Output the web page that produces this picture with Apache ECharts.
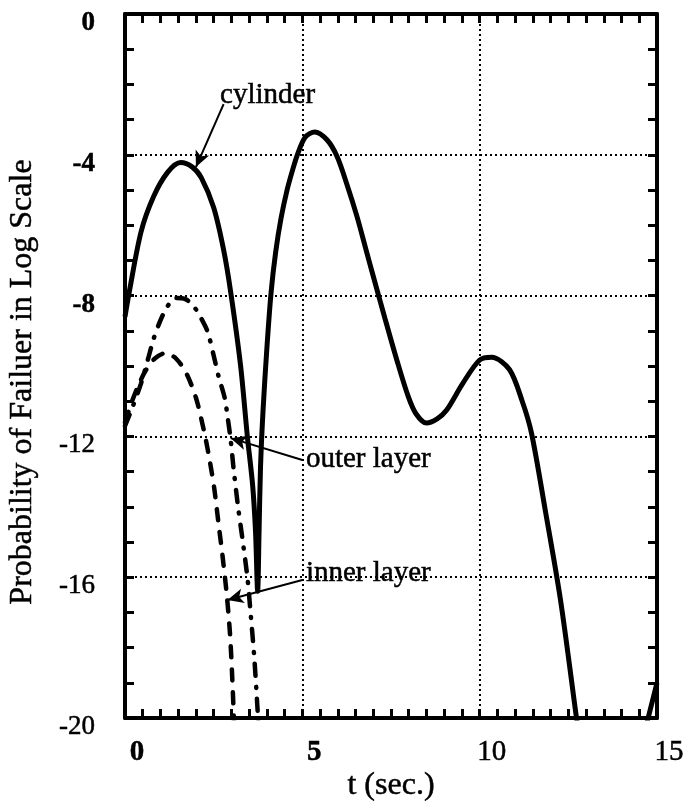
<!DOCTYPE html>
<html>
<head>
<meta charset="utf-8">
<script src="https://cdn.jsdelivr.net/npm/echarts@6/dist/echarts.min.js"></script>
<style>
  html, body { margin: 0; padding: 0; background: #fff; }
  #chart { width: 690px; height: 811px; }
</style>
</head>
<body>
<div id="chart"></div>
<script>
// cylinder (solid)
var cylT = [0, 0.12, 0.45, 0.8, 1.2, 1.57, 1.9, 2.15, 2.5, 2.78, 2.98, 3.26, 3.45, 3.6, 3.68, 3.74, 3.78, 3.82, 3.89, 4.0, 4.12, 4.25, 4.4, 4.57, 4.72, 4.86, 5.08, 5.35, 5.7, 5.98, 6.26, 6.54, 6.77, 7.0, 7.33, 7.67, 7.98, 8.2, 8.5, 8.8, 9.07, 9.52, 10.0, 10.34, 10.84, 11.2, 11.46, 11.85, 12.28, 12.73, 12.8, 13.5, 14.7, 15];
var cylY = [-8.6, -7.9, -6.2, -5.2, -4.5, -4.22, -4.35, -4.65, -5.5, -6.7, -7.9, -10.0, -12.0, -13.4, -14.7, -16.4, -14.7, -12.9, -11.3, -9.5, -7.9, -6.75, -5.8, -5.0, -4.45, -4.0, -3.5, -3.35, -3.58, -4.05, -4.85, -5.75, -6.6, -7.45, -8.65, -9.85, -10.85, -11.35, -11.62, -11.5, -11.25, -10.5, -9.83, -9.75, -10.1, -11.0, -11.9, -14.1, -16.65, -20.0, -20.5, null, -20.2, -19.0];
// outer layer (dash-dot)
var outerT = [0, 0.2, 0.45, 0.65, 0.8, 0.98, 1.2, 1.43, 1.7, 1.97, 2.15, 2.33, 2.5, 2.64, 2.81, 2.9, 2.98, 3.06, 3.2, 3.31, 3.45, 3.54, 3.65, 3.74, 3.77];
var outerY = [-11.7, -11.2, -10.5, -9.8, -9.25, -8.75, -8.3, -8.07, -8.1, -8.35, -8.65, -9.03, -9.7, -10.3, -10.9, -11.5, -12.1, -12.9, -14.1, -14.9, -16.0, -17.0, -18.35, -19.8, -20.3];
// inner layer (dashed)
var innerT = [0, 0.2, 0.4, 0.6, 0.85, 1.15, 1.45, 1.74, 2.0, 2.15, 2.28, 2.4, 2.52, 2.64, 2.75, 2.86, 2.96, 3.03, 3.08];
var innerY = [-11.6, -11.0, -10.5, -10.1, -9.78, -9.63, -9.8, -10.23, -10.9, -11.5, -12.1, -12.75, -13.5, -14.5, -15.4, -16.4, -17.6, -19.0, -20.3];

var xTicks = [0, 5, 10, 15];

// annotations (data coords)
var noteText = ['cylinder', 'outer layer', 'inner layer'];
var noteAt = [[2.68, -2.3], [5.1, -12.65], [5.1, -15.9]];
var arrowFrom = [[2.78, -2.56], [5.0, -12.67], [5.0, -16.08]];
var arrowTo = [[2.0, -4.35], [2.98, -12.05], [2.89, -16.65]];

function zip(t, y) {
  return t.map(function (v, i) { return [v, y[i] == null ? '-' : y[i]]; });
}

var serif = 'Liberation Serif';
var black = '#000';
var heavy = { textBorderColor: black, textBorderWidth: 0.5 };

function txt(size, bold) {
  return Object.assign({ fontFamily: serif, fontSize: size, fontWeight: bold ? 'bold' : 'normal', color: black }, heavy);
}

function frameAxis(extra) {
  var base = {
    type: 'value',
    axisLine: { show: true, onZero: false, lineStyle: { color: black, width: 4 } },
    axisTick: { show: true, inside: true, length: 9, lineStyle: { color: black, width: 3 } },
    minorTick: { show: true, length: 9, lineStyle: { color: black, width: 3 } },
    splitLine: { show: false },
    axisLabel: { show: false },
    nameMoveOverlap: false
  };
  for (var k in extra) {
    if (k === 'minorTick') base.minorTick.splitNumber = extra[k].splitNumber;
    else base[k] = extra[k];
  }
  return base;
}

var chart = echarts.init(document.getElementById('chart'));
chart.setOption({
  animation: false,
  backgroundColor: '#fff',
  grid: { left: 125, right: 33, top: 14, bottom: 93, containLabel: false, outerBoundsMode: 'none' },
  xAxis: [
    frameAxis({
      min: 0, max: 15, interval: 5, position: 'bottom',
      minorTick: { splitNumber: 10 },
      splitLine: { show: true, lineStyle: { color: black, width: 2, type: [2, 3] } },
      axisLabel: {
        show: true, margin: 20, padding: [0, 0, 0, 24], color: black,
        customValues: xTicks,
        formatter: function (v) { return v < 10 ? '{b|' + v + '}' : '{r|' + v + '}'; },
        rich: { b: txt(29, true), r: txt(29, false) }
      },
      name: 't (sec.)', nameLocation: 'middle', nameGap: 52,
      nameTextStyle: txt(32, false)
    }),
    frameAxis({ min: 0, max: 15, interval: 5, position: 'top', minorTick: { splitNumber: 10 } })
  ],
  yAxis: [
    frameAxis({
      min: -20, max: 0, interval: 4, position: 'left',
      minorTick: { splitNumber: 4 },
      splitLine: { show: true, lineStyle: { color: black, width: 2, type: [2, 3] } },
      axisLabel: {
        show: true, margin: 30, padding: [18, 0, 0, 0], color: black,
        formatter: function (v) { return v > -10 ? '{b|' + v + '}' : '{r|' + v + '}'; },
        rich: { b: txt(27, true), r: txt(27, false) }
      },
      name: 'Probability of Failuer in Log Scale', nameLocation: 'middle', nameGap: 86, nameRotate: 90,
      nameTextStyle: Object.assign(txt(32, false), { padding: [0, 32, 0, 0] })
    }),
    frameAxis({ min: -20, max: 0, interval: 4, position: 'right', minorTick: { splitNumber: 4 } })
  ],
  series: [
    {
      name: 'cylinder', type: 'line', data: zip(cylT, cylY), smooth: 0.3, showSymbol: false, symbol: 'none',
      clip: true, connectNulls: false,
      lineStyle: { color: black, width: 5 },
      markLine: {
        silent: true, symbol: ['none', 'arrow'], symbolSize: [11, 16], precision: 3,
        label: { show: false },
        lineStyle: { color: black, width: 2, type: 'solid' },
        data: arrowFrom.map(function (p, i) { return [{ coord: p }, { coord: arrowTo[i] }]; })
      },
      markPoint: {
        silent: true, symbol: 'circle', symbolSize: 0,
        label: Object.assign({ show: true, position: [0, 0], align: 'left', verticalAlign: 'middle' }, txt(29, false)),
        data: noteAt.map(function (p, i) { return { coord: p, value: noteText[i], label: { formatter: noteText[i] } }; })
      }
    },
    {
      name: 'outer layer', type: 'line', data: zip(outerT, outerY), smooth: 0.3, showSymbol: false, symbol: 'none',
      clip: true,
      lineStyle: { color: black, width: 4.5, type: [12, 11, 1, 11], cap: 'round' }
    },
    {
      name: 'inner layer', type: 'line', data: zip(innerT, innerY), smooth: 0.3, showSymbol: false, symbol: 'none',
      clip: true,
      lineStyle: { color: black, width: 4.5, type: [11, 12], cap: 'round' }
    }
  ]
});
</script>
</body>
</html>
